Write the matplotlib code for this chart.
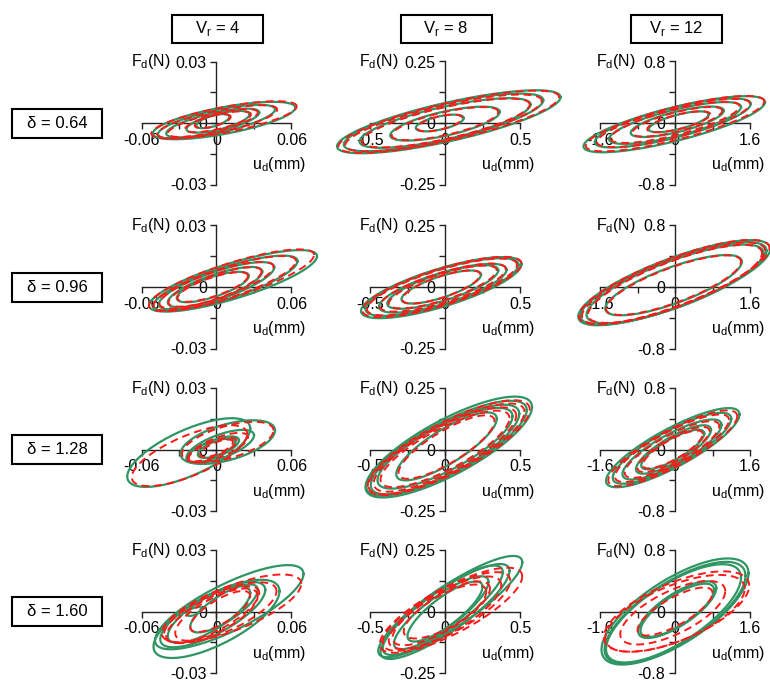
import numpy as np
import matplotlib
matplotlib.use('Agg')
import matplotlib.pyplot as plt
import matplotlib.patches as mpatches

plt.rcParams['font.family'] = ['Liberation Sans', 'DejaVu Sans']
plt.rcParams['font.size'] = 11.5

# column / row parameters
Vr = [4, 8, 12]
delta = ['0.64', '0.96', '1.28', '1.60']
u_lim = [0.06, 0.5, 1.6]    # mm
F_lim = [0.03, 0.25, 0.8]   # N
u_ticklabels = [['-0.06', '0', '0.06'], ['-0.5', '0', '0.5'], ['-1.6', '0', '1.6']]
F_ticklabels = [['-0.03', '0', '0.03'], ['-0.25', '0', '0.25'], ['-0.8', '0', '0.8']]

# hysteresis loops, in units of the axis limits
# each loop: (u centre, F centre, u amplitude, F at u peak, F half width at centre)
meas_064_4 = [(0.10, 0.04, 0.95, 0.21, 0.22), (0.00, 0.02, 0.78, 0.20, 0.19), (-0.05, 0.00, 0.62, 0.17, 0.16),
              (0.02, 0.02, 0.42, 0.12, 0.13), (-0.05, 0.03, 0.22, 0.07, 0.09)]
model_064_4 = [(0.10, 0.05, 0.97, 0.22, 0.21), (0.01, 0.02, 0.80, 0.20, 0.18), (-0.05, 0.00, 0.60, 0.17, 0.15),
               (0.02, 0.02, 0.44, 0.12, 0.12), (-0.05, 0.03, 0.24, 0.07, 0.09)]
meas_064_8 = [(0.05, 0.02, 1.49, 0.40, 0.32), (-0.02, 0.01, 1.33, 0.36, 0.30), (0.00, 0.00, 1.14, 0.30, 0.27),
              (0.00, -0.01, 0.73, 0.19, 0.20), (-0.07, 0.00, 0.32, 0.08, 0.11)]
model_064_8 = [(0.05, 0.02, 1.47, 0.40, 0.31), (-0.02, 0.00, 1.31, 0.36, 0.29), (0.01, 0.00, 1.12, 0.30, 0.26),
               (0.00, -0.01, 0.71, 0.19, 0.19), (-0.07, 0.00, 0.30, 0.08, 0.11)]
meas_064_12 = [(-0.01, -0.02, 1.21, 0.36, 0.28), (-0.03, 0.00, 1.04, 0.31, 0.25), (0.00, 0.00, 0.88, 0.26, 0.22),
               (0.03, 0.02, 0.62, 0.18, 0.17), (0.05, 0.02, 0.40, 0.12, 0.12)]
model_064_12 = [(0.00, -0.01, 1.19, 0.36, 0.27), (-0.02, 0.00, 1.02, 0.31, 0.24), (0.00, 0.01, 0.86, 0.26, 0.21),
                (0.03, 0.02, 0.60, 0.18, 0.16), (0.05, 0.02, 0.42, 0.12, 0.12)]

meas_096_4 = [(0.22, 0.10, 1.12, 0.40, 0.30), (0.12, 0.06, 0.96, 0.36, 0.27), (0.00, 0.02, 0.77, 0.30, 0.24),
              (-0.02, 0.00, 0.63, 0.25, 0.21), (-0.05, 0.00, 0.48, 0.18, 0.17)]
model_096_4 = [(0.20, 0.11, 1.10, 0.41, 0.29), (0.11, 0.06, 0.95, 0.36, 0.26), (0.00, 0.03, 0.76, 0.30, 0.23),
               (-0.02, 0.00, 0.62, 0.25, 0.20), (-0.05, 0.00, 0.47, 0.18, 0.16)]
meas_096_8 = [(-0.05, -0.01, 1.07, 0.38, 0.32), (-0.04, 0.00, 1.02, 0.36, 0.30), (-0.03, -0.02, 0.85, 0.30, 0.26),
              (-0.03, 0.00, 0.74, 0.27, 0.23), (-0.05, 0.00, 0.53, 0.20, 0.18)]
model_096_8 = [(-0.04, 0.00, 1.06, 0.38, 0.31), (-0.04, 0.00, 1.00, 0.36, 0.29), (-0.03, -0.01, 0.84, 0.30, 0.25),
               (-0.03, 0.00, 0.72, 0.27, 0.22), (-0.05, 0.00, 0.52, 0.20, 0.18)]
meas_096_12 = [(-0.01, 0.07, 1.28, 0.55, 0.42), (-0.02, 0.06, 1.24, 0.53, 0.41), (0.00, 0.05, 1.18, 0.50, 0.40),
               (-0.02, 0.03, 0.91, 0.38, 0.31)]
model_096_12 = [(-0.01, 0.08, 1.27, 0.55, 0.41), (-0.02, 0.06, 1.22, 0.53, 0.40), (0.00, 0.05, 1.16, 0.50, 0.39),
                (-0.02, 0.03, 0.90, 0.38, 0.30)]

meas_128_4 = [(-0.37, -0.05, 0.82, 0.39, 0.40), (0.15, 0.12, 0.63, 0.19, 0.30), (0.05, 0.05, 0.45, 0.18, 0.20),
              (-0.05, 0.00, 0.35, 0.15, 0.15), (0.00, 0.02, 0.25, 0.10, 0.12)]
model_128_4 = [(-0.36, -0.10, 0.77, 0.35, 0.35), (0.15, 0.12, 0.61, 0.19, 0.27), (0.02, 0.03, 0.40, 0.17, 0.17),
               (-0.05, 0.00, 0.32, 0.14, 0.13), (0.00, 0.02, 0.22, 0.10, 0.10)]
meas_128_8 = [(0.05, 0.04, 1.11, 0.65, 0.50), (0.02, 0.02, 1.07, 0.62, 0.46), (0.00, 0.00, 0.99, 0.58, 0.44),
              (0.00, 0.02, 0.90, 0.52, 0.40), (0.02, 0.05, 0.67, 0.45, 0.32)]
model_128_8 = [(0.05, 0.03, 1.08, 0.62, 0.46), (0.02, 0.01, 1.04, 0.60, 0.43), (0.00, 0.00, 0.95, 0.55, 0.41),
               (0.00, 0.01, 0.86, 0.50, 0.37), (0.02, 0.04, 0.64, 0.42, 0.30)]
meas_128_12 = [(-0.03, 0.03, 0.89, 0.54, 0.35), (-0.04, 0.02, 0.79, 0.48, 0.32), (-0.04, 0.00, 0.66, 0.40, 0.28),
               (-0.02, 0.00, 0.50, 0.32, 0.23), (-0.03, 0.00, 0.42, 0.26, 0.19)]
model_128_12 = [(-0.03, 0.02, 0.86, 0.52, 0.33), (-0.04, 0.02, 0.76, 0.46, 0.30), (-0.04, 0.00, 0.63, 0.38, 0.26),
                (-0.02, 0.00, 0.48, 0.30, 0.21), (-0.03, 0.00, 0.40, 0.25, 0.18)]

meas_160_4 = [(0.17, 0.07, 0.99, 0.54, 0.42), (0.00, -0.12, 0.84, 0.45, 0.45), (-0.05, -0.05, 0.70, 0.40, 0.35),
              (0.10, 0.05, 0.45, 0.30, 0.25), (-0.10, -0.05, 0.55, 0.35, 0.30), (-0.30, 0.00, 0.10, 0.04, 0.06)]
model_160_4 = [(0.20, 0.05, 0.93, 0.40, 0.38), (0.05, -0.02, 0.75, 0.35, 0.35), (0.00, -0.05, 0.55, 0.30, 0.30),
               (0.05, 0.00, 0.40, 0.25, 0.22), (-0.05, -0.05, 0.62, 0.35, 0.30)]
meas_160_8 = [(0.07, 0.08, 0.96, 0.72, 0.40), (0.00, 0.00, 0.86, 0.66, 0.40), (-0.03, 0.02, 0.80, 0.62, 0.38),
              (-0.05, -0.02, 0.63, 0.50, 0.32), (0.00, 0.00, 0.50, 0.40, 0.28)]
model_160_8 = [(0.08, 0.02, 0.95, 0.55, 0.42), (0.02, 0.00, 0.85, 0.50, 0.40), (0.00, -0.02, 0.75, 0.45, 0.38),
               (0.00, 0.00, 0.55, 0.32, 0.30), (-0.05, -0.03, 0.65, 0.40, 0.33)]
meas_160_12 = [(0.00, 0.00, 0.98, 0.62, 0.60), (0.00, -0.02, 0.94, 0.60, 0.57), (-0.02, -0.03, 0.90, 0.58, 0.55),
               (0.03, 0.03, 0.52, 0.35, 0.30), (0.03, 0.02, 0.49, 0.33, 0.28)]
model_160_12 = [(0.02, 0.00, 0.97, 0.42, 0.50), (0.00, -0.03, 0.93, 0.40, 0.48), (0.00, 0.00, 0.50, 0.30, 0.25),
                (-0.03, -0.02, 0.70, 0.35, 0.38)]

measured = [[meas_064_4, meas_064_8, meas_064_12],
            [meas_096_4, meas_096_8, meas_096_12],
            [meas_128_4, meas_128_8, meas_128_12],
            [meas_160_4, meas_160_8, meas_160_12]]
model = [[model_064_4, model_064_8, model_064_12],
         [model_096_4, model_096_8, model_096_12],
         [model_128_4, model_128_8, model_128_12],
         [model_160_4, model_160_8, model_160_12]]

# layout in pixels
W, H = 770, 682
col_x = [216.5, 445, 675]         # y-axis position of each column
row_y = [123, 287, 449.5, 611.5]  # x-axis position of each row
half_u = 75.0   # px from origin to +u_lim
half_F = 61.5   # px from origin to +F_lim

green = '#2e9563'
red = '#ff1a1a'
axcol = '#222222'

fig = plt.figure(figsize=(W/100, H/100), dpi=100)
t = np.linspace(0, 2*np.pi, 300)


def box(cx, cy, w, h, text):
    rect = mpatches.Rectangle(((cx - w/2)/W, 1 - (cy + h/2)/H), w/W, h/H, transform=fig.transFigure,
                              fill=False, lw=1.5, ec='k')
    fig.add_artist(rect)
    fig.text(cx/W, 1 - cy/H, text, ha='center', va='center', fontsize=12)


for i in range(4):
    for j in range(3):
        ox, oy = col_x[j], row_y[i]
        xl, yl = u_lim[j], F_lim[j]
        ax = fig.add_axes([(ox - 100)/W, 1 - (oy + 75)/H, 200/W, 150/H])
        ax.patch.set_visible(False)
        ax.set_xlim(-xl*100/half_u, xl*100/half_u)
        ax.set_ylim(-yl*75/half_F, yl*75/half_F)
        for s in ['top', 'right']:
            ax.spines[s].set_visible(False)
        ax.spines['left'].set_position(('data', 0))
        ax.spines['bottom'].set_position(('data', 0))
        ax.spines['left'].set_bounds(-yl, yl)
        ax.spines['bottom'].set_bounds(-xl, xl)
        for s in ['left', 'bottom']:
            ax.spines[s].set_color(axcol)
            ax.spines[s].set_linewidth(1.0)
        ax.set_xticks([-xl, 0, xl])
        ax.set_xticklabels(u_ticklabels[j])
        ax.set_xticks([-xl/2, xl/2], minor=True)
        ax.set_yticks([-yl, 0, yl])
        ax.set_yticklabels(F_ticklabels[j])
        ax.set_yticks([-yl/2, yl/2], minor=True)
        ax.tick_params(which='both', direction='out', length=4, width=1, color=axcol, labelsize=11.5, pad=3)

        for (cx, cy, A, S, B) in measured[i][j]:
            x = (cx + A*np.cos(t))*xl
            y = (cy + S*np.cos(t) + B*np.sin(t))*yl
            ax.plot(x, y, color=green, lw=1.6, clip_on=False, zorder=3)
        for (cx, cy, A, S, B) in model[i][j]:
            x = (cx + A*np.cos(t))*xl
            y = (cy + S*np.cos(t) + B*np.sin(t))*yl
            ax.plot(x, y, color=red, lw=1.4, ls=(0, (4, 2.5)), clip_on=False, zorder=4)

        # keep the F label clear of the top tick label
        gap = 20 + 6.5*len(F_ticklabels[j][2])
        fig.text((ox - gap)/W, 1 - (oy - 61.5)/H, r'F$_\mathregular{d}$(N)', ha='right', va='center',
                 fontsize=11.5)
        fig.text((ox + 90)/W, 1 - (oy + 42)/H, r'u$_\mathregular{d}$(mm)', ha='right', va='center', fontsize=11.5)

for j in range(3):
    box(col_x[j] + 1, 29, 91, 28, r'V$_\mathregular{r}$ = %d' % Vr[j])
for i in range(4):
    box(57, row_y[i], 90, 29, 'δ = ' + delta[i])

fig.savefig('out.png', dpi=100)
